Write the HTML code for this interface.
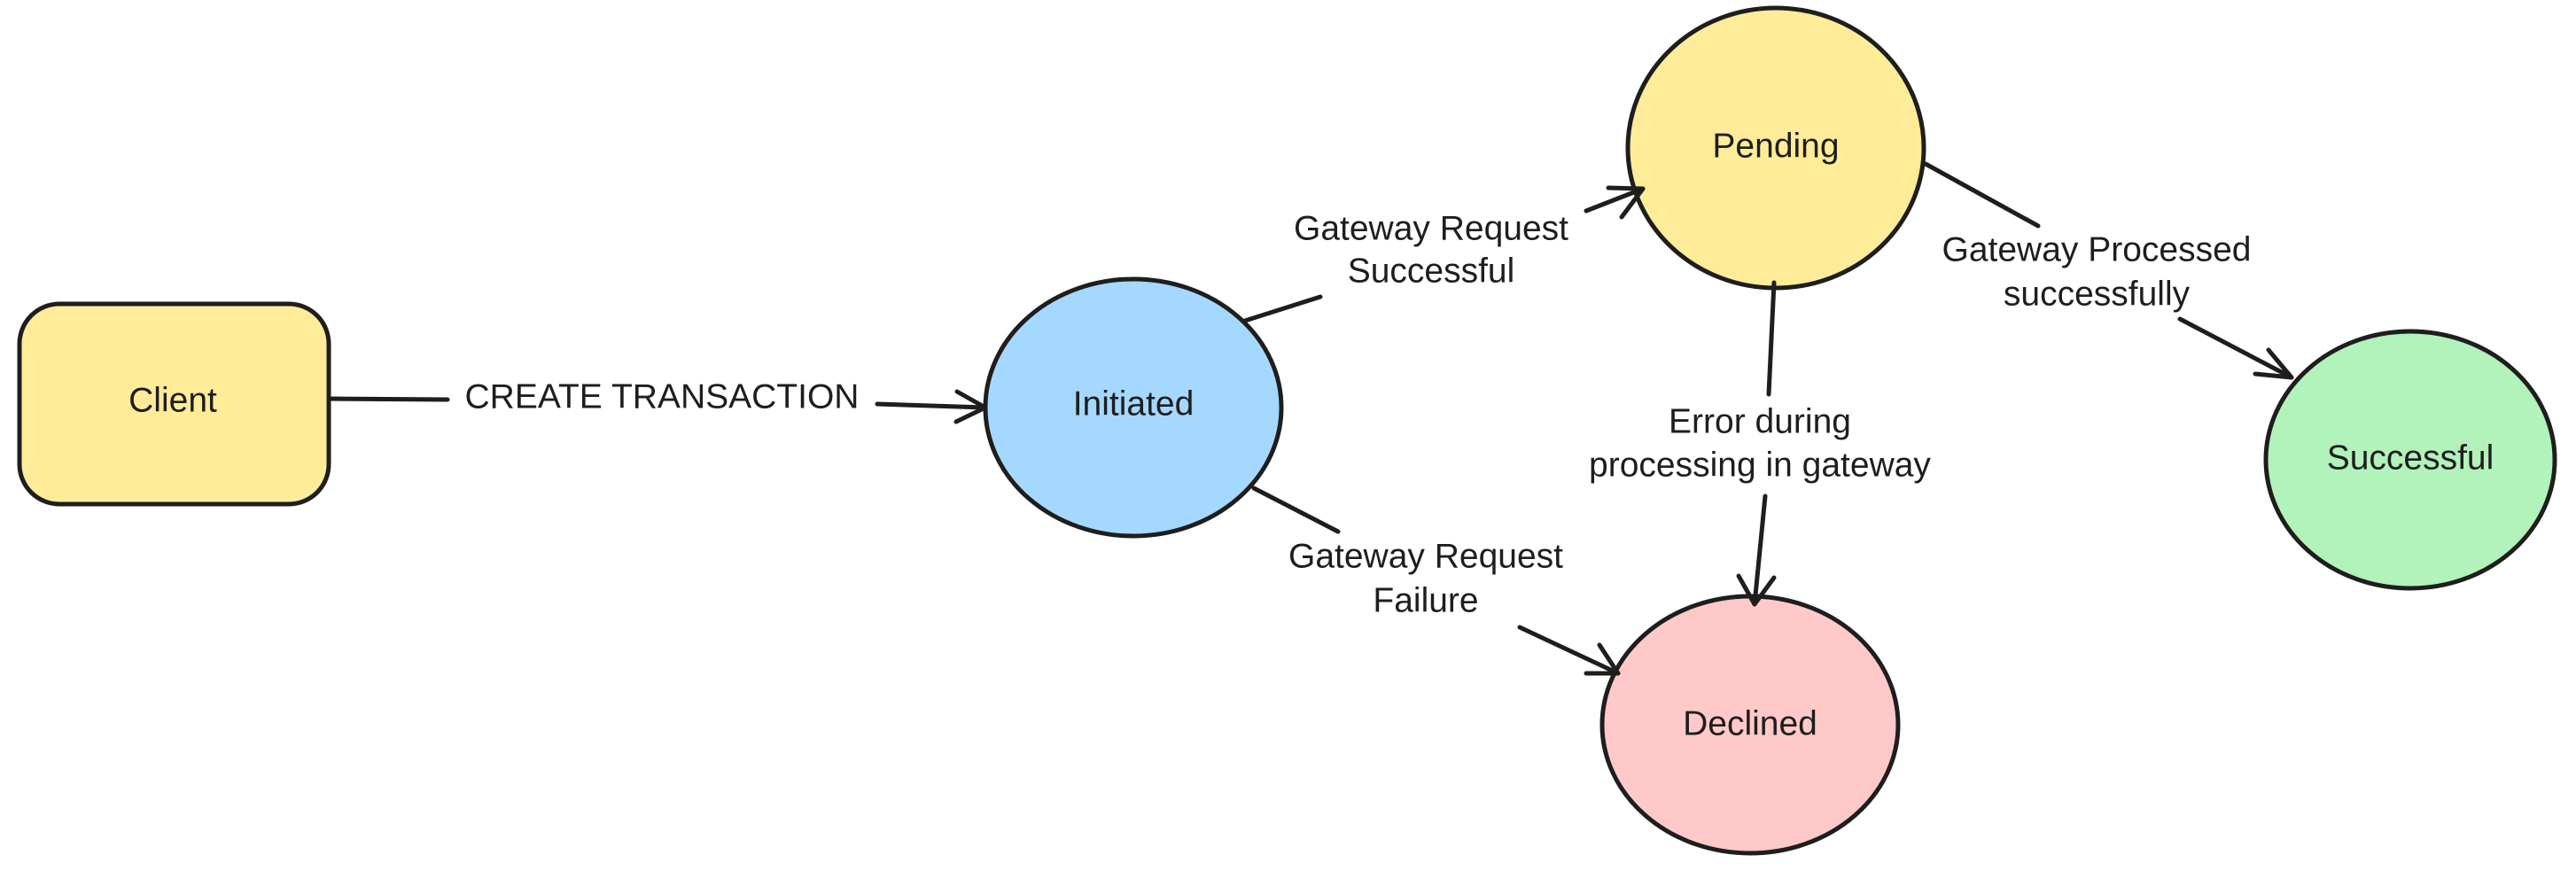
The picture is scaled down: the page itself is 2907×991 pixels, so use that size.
<!DOCTYPE html>
<html><head><style>
html,body{margin:0;padding:0;background:#fff;}
svg{display:block;}
text{font-family:"Liberation Sans",sans-serif;font-size:39px;fill:#1e1e1e;text-anchor:middle;dominant-baseline:middle;}
</style></head><body>
<svg width="2907" height="991" viewBox="0 0 2907 991" xmlns="http://www.w3.org/2000/svg">
<g stroke="#1e1e1e" stroke-width="5" fill="none" stroke-linecap="round" stroke-linejoin="round">
<rect x="22" y="343" width="349" height="226" rx="45" fill="#ffec99"/>
<ellipse cx="1279" cy="460" rx="167" ry="145" fill="#a5d8ff"/>
<ellipse cx="2004" cy="167" rx="167" ry="158" fill="#ffec99"/>
<ellipse cx="2720" cy="519" rx="163" ry="145" fill="#b2f2bb"/>
<ellipse cx="1975" cy="818" rx="167" ry="145" fill="#ffc9c9"/>
<path d="M371 450 L505 451"/><path d="M990 456 L1112 460"/>
<path d="M1080 442 L1112 460 L1079 476"/>
<path d="M1405 362 L1490 335"/><path d="M1790 238 L1854 213"/>
<path d="M1815 212 L1854 213 L1830 245"/>
<path d="M1415 551 L1510 600"/><path d="M1715 708 L1826 760"/>
<path d="M1790 760 L1826 760 L1805 728"/>
<path d="M2002 319 L1996 445"/><path d="M1992 560 L1980 682"/>
<path d="M1962 650 L1980 682 L2002 652"/>
<path d="M2173 185 L2300 255"/><path d="M2460 360 L2586 426"/>
<path d="M2560 395 L2586 426 L2545 422"/>
</g>
<text x="195" y="454">Client</text>
<text x="1279" y="458">Initiated</text>
<text x="2004" y="167">Pending</text>
<text x="2720" y="519">Successful</text>
<text x="1975" y="819">Declined</text>
<text x="747" y="450">CREATE TRANSACTION</text>
<text x="1615" y="260">Gateway Request</text>
<text x="1615" y="308">Successful</text>
<text x="1609" y="630">Gateway Request</text>
<text x="1609" y="680">Failure</text>
<text x="1986" y="478">Error during</text>
<text x="1986" y="527">processing in gateway</text>
<text x="2366" y="284">Gateway Processed</text>
<text x="2366" y="334">successfully</text>
</svg>
</body></html>
